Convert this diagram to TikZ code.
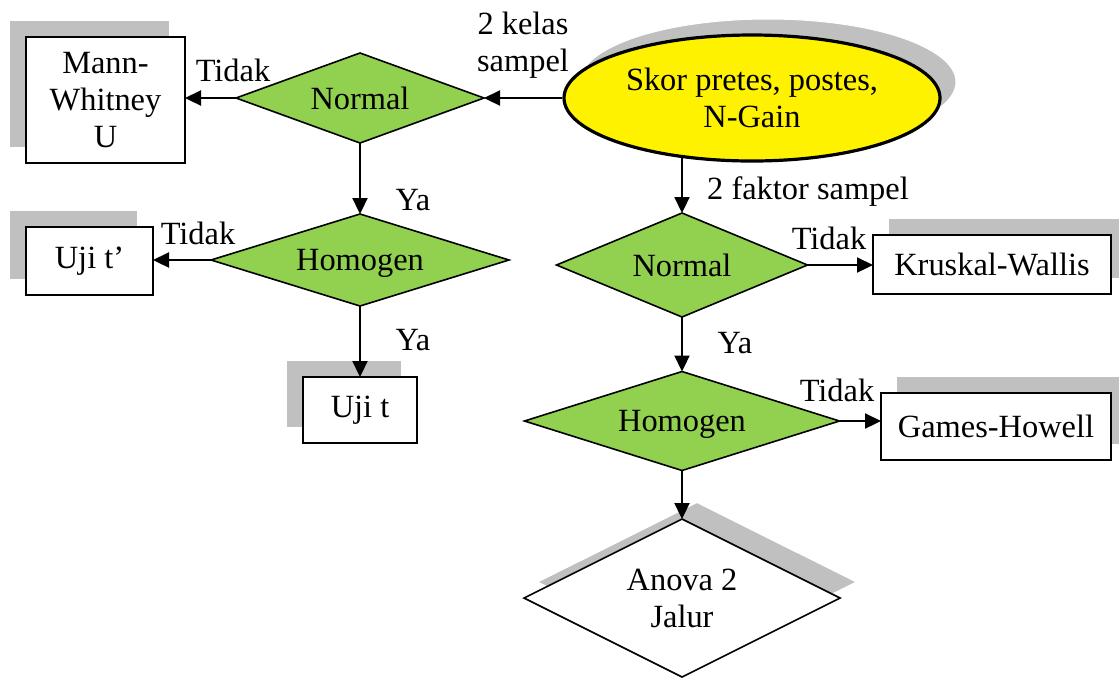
\documentclass[tikz,border=0pt]{standalone}
\usepackage{fontspec}
\setmainfont{Liberation Serif}
\usetikzlibrary{shapes.geometric,arrows.meta}
\pgfdeclarelayer{shadowlayer}
\pgfdeclarelayer{connlayer}
\pgfsetlayers{shadowlayer,connlayer,main}
\definecolor{shgray}{HTML}{C0C0C0}
\definecolor{dgreen}{HTML}{92D050}
\begin{document}
\begin{tikzpicture}[x=0.5pt,y=-0.5pt,
  font=\fontsize{16.2}{18.6}\selectfont,
  box/.style={draw, line width=1pt, fill=white, inner sep=0, outer sep=0, align=center},
  shbox/.style={fill=shgray, inner sep=0, outer sep=0},
  dia/.style={diamond, aspect=2, draw, line width=0.8pt, fill=dgreen, inner sep=0, outer sep=0, align=center, text depth=0pt},
  conn/.style={line width=1.1pt, -{Triangle[length=8pt,width=7.5pt]}},
  lbl/.style={inner sep=0, align=center}]
\useasboundingbox (0,0) rectangle (1119,677);

% shadows
\begin{pgfonlayer}{shadowlayer}
\node[shbox, minimum width=79.5pt, minimum height=63pt] (mwsh) at (89.5,84) {};
\node[shbox, minimum width=63.5pt, minimum height=34pt] (ujt2sh) at (73.5,245) {};
\node[shbox, minimum width=57pt, minimum height=33pt] (ujtsh) at (344,394) {};
\node[shbox, minimum width=119pt, minimum height=29.5pt] (kwsh) at (1008,248.5) {};
\node[shbox, minimum width=115pt, minimum height=33.5pt] (ghsh) at (1012,410.5) {};
\node[ellipse, fill=shgray, draw=white, line width=0.5pt, inner sep=0, minimum width=188pt, minimum height=63pt] (ellsh) at (768,82) {};
\node[diamond, fill=shgray, inner sep=0, minimum width=158pt, minimum height=79pt] (ansh) at (697,582) {};
\end{pgfonlayer}

% nodes
\node[ellipse, draw, line width=1.6pt, fill=yellow, inner sep=0, align=center, minimum width=188pt, minimum height=63pt] (ell) at (752,98) {Skor pretes, postes,\\N-Gain};
\node[dia, minimum width=124pt, minimum height=45pt] (n1) at (360,98) {Normal};
\node[dia, minimum width=149pt, minimum height=46pt] (h1) at (360,260) {Homogen};
\node[box, minimum width=79.5pt, minimum height=63pt] (mw) at (105.5,100) {Mann-\\Whitney\\U};
\node[box, minimum width=63.5pt, minimum height=34pt] (ujt2) at (89.5,261) {Uji t’};
\node[box, minimum width=57pt, minimum height=33pt] (ujt) at (360,410) {Uji t};
\node[dia, minimum width=125.5pt, minimum height=52pt] (n2) at (682,265) {Normal};
\node[dia, minimum width=157.5pt, minimum height=49.5pt] (h2) at (682,421) {Homogen};
\node[box, minimum width=119pt, minimum height=29.5pt] (kw) at (992,264.5) {Kruskal-Wallis};
\node[box, minimum width=115pt, minimum height=33.5pt] (gh) at (996,426.5) {Games-Howell};
\node[dia, fill=white, minimum width=158pt, minimum height=79pt] (an) at (682,598) {\rule{0pt}{6pt}Anova 2\\Jalur};

% connectors
\begin{pgfonlayer}{connlayer}
\draw[conn] (ell.west) -- (n1.east);
\draw[conn] (n1.west) -- (n1.west -| mw.east);
\draw[conn] (n1.south) -- (h1.north);
\draw[conn] (h1.west) -- (h1.west -| ujt2.east);
\draw[conn] (h1.south) -- (h1.south |- ujt.north);
\draw[conn] (n2.north |- ell.center) -- (n2.north);
\draw[conn] (n2.east) -- (n2.east -| kw.west);
\draw[conn] (n2.south) -- (h2.north);
\draw[conn] (h2.east) -- (h2.east -| gh.west);
\draw[conn] (h2.south) -- (an.north);
\end{pgfonlayer}

% labels
\node[lbl] (l1) at (523,45) {2 kelas\\sampel};
\node[lbl] (l2) at (233,70) {Tidak};
\node[lbl] (l3) at (413,200) {Ya};
\node[lbl] (l4) at (198,233) {Tidak};
\node[lbl] (l5) at (413,340) {Ya};
\node[lbl] (l6) at (808,192) {2 faktor sampel};
\node[lbl] (l7) at (829,238) {Tidak};
\node[lbl] (l8) at (735,343) {Ya};
\node[lbl] (l9) at (837,390) {Tidak};
\end{tikzpicture}
\end{document}
